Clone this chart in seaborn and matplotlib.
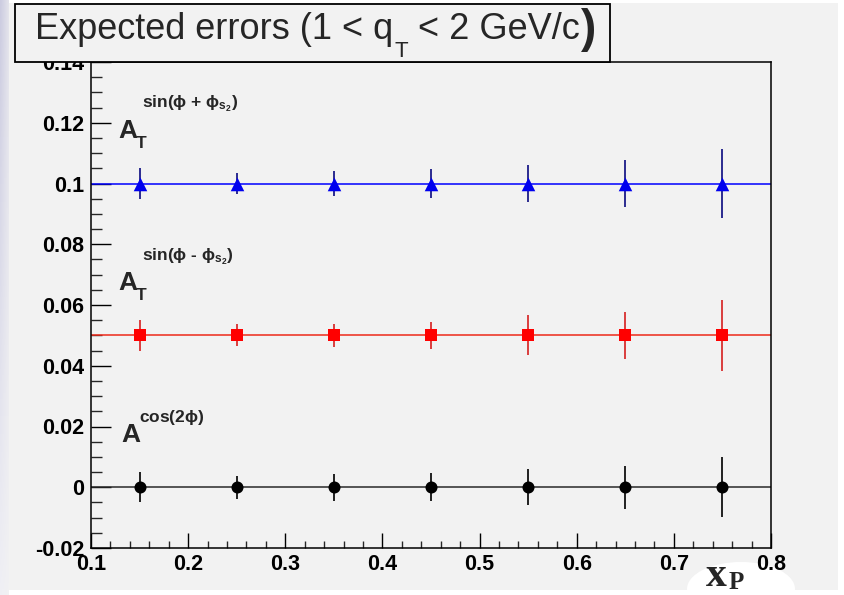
import numpy as np
import pandas as pd
import matplotlib
matplotlib.use("Agg")
import matplotlib.pyplot as plt
import seaborn as sns
from matplotlib.patches import Rectangle, Ellipse
from matplotlib.ticker import MultipleLocator, FuncFormatter

# Data
xp = [0.15, 0.25, 0.35, 0.45, 0.55, 0.65, 0.75]

a_plus = [0.1, 0.1, 0.1, 0.1, 0.1, 0.1, 0.1]
err_plus = [0.0052, 0.0035, 0.0040, 0.0047, 0.0062, 0.0077, 0.0115]

a_minus = [0.05, 0.05, 0.05, 0.05, 0.05, 0.05, 0.05]
err_minus = [0.0052, 0.0036, 0.0038, 0.0044, 0.0066, 0.0077, 0.0118]

a_cos = [0.0, 0.0, 0.0, 0.0, 0.0, 0.0, 0.0]
err_cos = [0.0050, 0.0038, 0.0044, 0.0046, 0.0060, 0.0071, 0.0099]

# constant fits drawn across the pad
fit_plus = 0.1
fit_minus = 0.05
fit_cos = 0.0

series = ["plus", "minus", "cos"]

df = pd.DataFrame({
    "xp": xp * 3,
    "asym": a_plus + a_minus + a_cos,
    "err": err_plus + err_minus + err_cos,
    "series": [s for s in series for _ in xp],
})

sns.set_theme(style="ticks")
plt.rcParams["font.family"] = ["Liberation Sans", "DejaVu Sans"]
plt.rcParams["font.weight"] = "bold"
plt.rcParams["mathtext.fontset"] = "custom"
plt.rcParams["mathtext.rm"] = "Liberation Sans:bold"
plt.rcParams["mathtext.it"] = "Liberation Sans:bold"
plt.rcParams["mathtext.bf"] = "Liberation Sans:bold"

W, H = 844, 595
fig = plt.figure(figsize=(W / 100, H / 100), dpi=100, facecolor="white")


def fx(px):
    return px / W


def fy(py):
    return 1 - py / H


# slide panel + bluish left edge
fig.patches.append(Rectangle((fx(8), fy(590)), fx(830), 587 / H, transform=fig.transFigure,
                             facecolor="#f2f2f2", edgecolor="none", zorder=-3))
bg = fig.add_axes([0, 0, fx(9), 1], zorder=-1)
top_c = np.array([0.80, 0.80, 0.88])
bot_c = np.array([0.94, 0.94, 0.96])
t = np.linspace(0, 1, 100)[:, None, None]
col = top_c * (1 - t) + bot_c * t
fade = np.linspace(0, 1, 9)[None, :, None]
grad = col * (1 - fade * 0.6) + np.array([0.95, 0.95, 0.95]) * fade * 0.6
bg.imshow(grad, aspect="auto", extent=[0, 1, 0, 1])
bg.axis("off")

# white blob behind the x axis title (under the tick labels)
fig.patches.append(Ellipse((fx(741), fy(589)), fx(108), 54 / H, transform=fig.transFigure,
                           facecolor="white", edgecolor="none", zorder=-2))

ax = fig.add_axes([fx(91), fy(548), fx(680), 486 / H])
ax.set_facecolor("#f2f2f2")

styles = {
    "plus": dict(color="#0000ee", ecolor="#1c1c88", line="#0000ff", marker="^", s=95, fit=fit_plus),
    "minus": dict(color="#ff0000", ecolor="#d83030", line="#ee2a1a", marker="s", s=80, fit=fit_minus),
    "cos": dict(color="#000000", ecolor="#111111", line="#2a2a2a", marker="o", s=75, fit=fit_cos),
}

for name in series:
    st = styles[name]
    sub = df[df["series"] == name]
    ax.axhline(st["fit"], color=st["line"], lw=1.1, zorder=2)
    ax.errorbar(sub["xp"], sub["asym"], yerr=sub["err"], fmt="none",
                ecolor=st["ecolor"], elinewidth=1.3, capsize=0, zorder=3)
    sns.scatterplot(data=sub, x="xp", y="asym", marker=st["marker"], color=st["color"],
                    s=st["s"], linewidth=0, legend=False, zorder=4, ax=ax)

ax.set_xlim(0.1, 0.8)
ax.set_ylim(-0.02, 0.14)
ax.set_xlabel("")
ax.set_ylabel("")

ax.xaxis.set_major_locator(MultipleLocator(0.1))
ax.xaxis.set_minor_locator(MultipleLocator(0.02))
ax.yaxis.set_major_locator(MultipleLocator(0.02))
ax.yaxis.set_minor_locator(MultipleLocator(0.005))
fmt = FuncFormatter(lambda v, p: f"{round(v, 3) + 0.0:g}")
ax.xaxis.set_major_formatter(fmt)
ax.yaxis.set_major_formatter(fmt)

ax.tick_params(axis="x", which="major", direction="in", length=10.8, width=1.0,
               top=False, labelsize=15.5, pad=4.3, colors="black")
ax.tick_params(axis="x", which="minor", direction="in", length=5, width=1.0, top=False)
ax.tick_params(axis="y", which="major", direction="in", length=14.4, width=1.0,
               right=False, labelsize=15.5, pad=5, colors="black")
ax.tick_params(axis="y", which="minor", direction="in", length=8, width=1.0, right=False)
for sp in ax.spines.values():
    sp.set_visible(True)
    sp.set_color("black")
    sp.set_linewidth(1.1)


# asymmetry labels
def asym_label(x0, base, sup, sup_dy, sup_dx, sub_t=True):
    ax.text(x0, base, "A", fontsize=19, fontweight="bold", va="baseline", ha="left", zorder=5)
    if sub_t:
        ax.text(x0 + 0.0185, base - 0.0033, "T", fontsize=12.5, fontweight="bold",
                va="baseline", ha="left", zorder=5)
    ax.text(x0 + sup_dx, base + sup_dy, sup, fontsize=12.5, fontweight="bold",
            va="baseline", ha="left", zorder=5)


asym_label(0.128, 0.1151, r"sin($\phi$ + $\phi_{s_{2}}$)", 0.0099, 0.0240)
asym_label(0.128, 0.0648, r"sin($\phi$ - $\phi_{s_{2}}$)", 0.0099, 0.0240)
asym_label(0.131, 0.0150, r"cos(2$\phi$)", 0.0065, 0.0180, sub_t=False)

# title box
fig.patches.append(Rectangle((fx(15), fy(62)), fx(595), 58 / H, transform=fig.transFigure,
                             facecolor="#f2f2f2", edgecolor="black", lw=1.3, zorder=5))
renderer = fig.canvas.get_renderer()
x_cur = 35
for txt, size, dy, gap in [("Expected errors (1 < q", 26, 0, 0), ("T", 16, 18, 1),
                           ("< 2 GeV/c", 26, 0, 10), (")", 33, 3, 1)]:
    x_cur += gap
    tt = fig.text(fx(x_cur), fy(39 + dy), txt, fontsize=size,
                  fontweight="normal" if size < 30 else "bold",
                  va="baseline", ha="left", zorder=6)
    bb = tt.get_window_extent(renderer)
    x_cur += bb.width

# x axis title
fig.text(fx(706), fy(586), "x", family="Liberation Serif", fontsize=30, fontweight="bold",
         va="baseline", ha="left", zorder=6)
fig.text(fx(729), fy(589), "P", family="Liberation Serif", fontsize=18, fontweight="bold",
         va="baseline", ha="left", zorder=6)

fig.savefig("out.png", dpi=100, facecolor="white")
